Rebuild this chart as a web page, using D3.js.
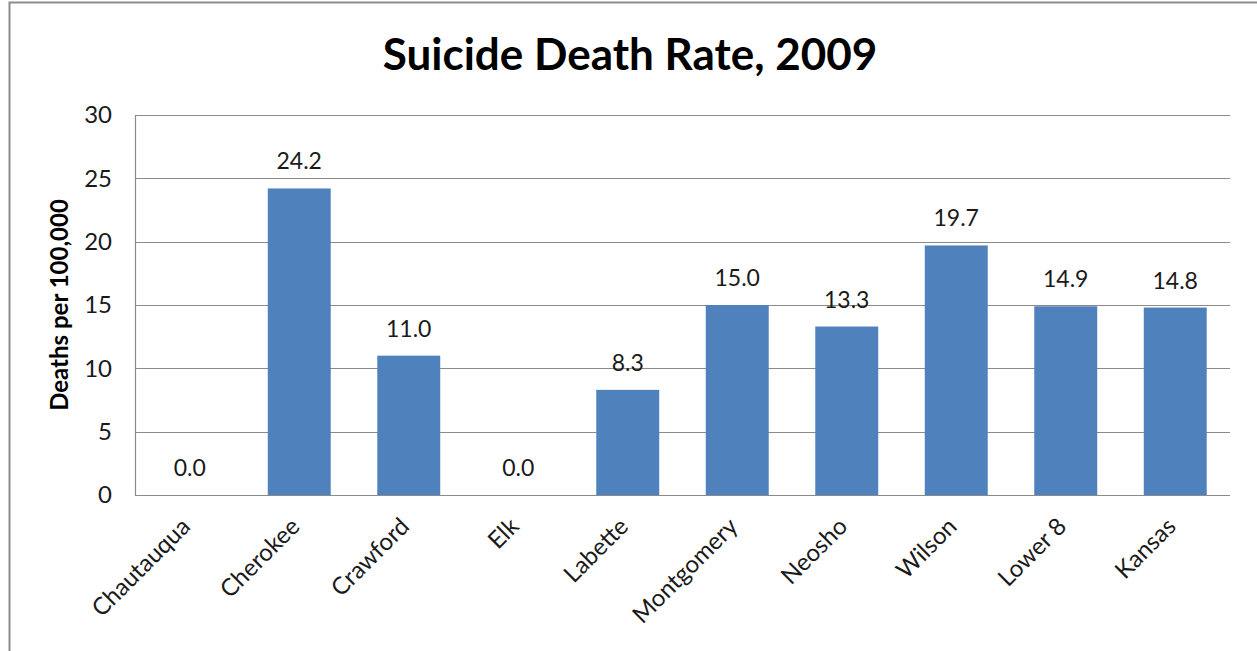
<!DOCTYPE html>
<html>
<head>
<meta charset="utf-8">
<script src="https://cdn.jsdelivr.net/npm/d3@7"></script>
<style>
  html, body { margin: 0; padding: 0; background: #fff; }
  svg { display: block; font-family: Lato, "Open Sans", sans-serif; }
</style>
</head>
<body>
<svg id="chart" width="1257" height="651"></svg>
<script>
const categories = ["Chautauqua", "Cherokee", "Crawford", "Elk", "Labette", "Montgomery", "Neosho", "Wilson", "Lower 8", "Kansas"];
const rates = [0.0, 24.2, 11.0, 0.0, 8.3, 15.0, 13.3, 19.7, 14.9, 14.8];
const yTicks = [0, 5, 10, 15, 20, 25, 30];

const svg = d3.select("#chart");
const margin = { left: 135, right: 27, top: 115, bottom: 156 };
const W = 1257, H = 651;

// chart frame
svg.append("rect")
  .attr("x", 9.5).attr("y", 2.5)
  .attr("width", W + 10).attr("height", H + 10)
  .attr("fill", "#fff").attr("stroke", "#8c8c8c").attr("stroke-width", 2);

const x = d3.scaleBand()
  .domain(categories)
  .range([margin.left, W - margin.right])
  .paddingInner(0.425).paddingOuter(0.2125);

const y = d3.scaleLinear().domain([0, 30]).range([H - margin.bottom, margin.top]);

// gridlines
svg.append("g")
  .selectAll("line")
  .data(yTicks)
  .join("line")
  .attr("x1", margin.left).attr("x2", W - margin.right)
  .attr("y1", d => Math.round(y(d)) + 0.5).attr("y2", d => Math.round(y(d)) + 0.5)
  .attr("stroke", "#8a8a8a").attr("stroke-width", 1.2);

// y axis
const yAxis = svg.append("g")
  .attr("transform", `translate(${margin.left},0)`)
  .call(d3.axisLeft(y).tickValues(yTicks).tickSize(0).tickPadding(23));
yAxis.select(".domain").attr("stroke", "#8a8a8a").attr("stroke-width", 1.2);
yAxis.selectAll("text")
  .attr("font-size", 24).attr("fill", "#1a1a1a")
  .attr("font-family", "Lato, 'Open Sans', sans-serif");

// bars
svg.append("g")
  .selectAll("rect")
  .data(categories)
  .join("rect")
  .attr("x", d => x(d))
  .attr("width", x.bandwidth())
  .attr("y", (d, i) => y(rates[i]))
  .attr("height", (d, i) => y(0) - y(rates[i]))
  .attr("fill", "#4F81BD");

// value labels
svg.append("g")
  .selectAll("text")
  .data(categories)
  .join("text")
  .attr("x", d => x(d) + x.bandwidth() / 2)
  .attr("y", (d, i) => y(rates[i]) - 19)
  .attr("text-anchor", "middle")
  .attr("font-size", 23)
  .attr("fill", "#1a1a1a")
  .text((d, i) => rates[i].toFixed(1));

// x axis labels
const xAxis = svg.append("g")
  .attr("transform", `translate(0,${y(0)})`)
  .call(d3.axisBottom(x).tickSize(0).tickPadding(0));
xAxis.select(".domain").attr("stroke", "#8a8a8a").attr("stroke-width", 1.2)
  .attr("d", `M${margin.left},0.5H${W - margin.right}`);
xAxis.selectAll("text")
  .attr("font-size", 24).attr("fill", "#1a1a1a")
  .attr("font-family", "Lato, 'Open Sans', sans-serif")
  .attr("text-anchor", "end")
  .attr("dy", "0")
  .attr("transform", "translate(2,33) rotate(-45)");

// y axis title
svg.append("text")
  .attr("transform", `translate(68,${(y(0) + y(30)) / 2}) rotate(-90)`)
  .attr("text-anchor", "middle")
  .attr("font-size", 24).attr("font-weight", "bold")
  .attr("fill", "#000")
  .text("Deaths per 100,000");

// title
svg.append("text")
  .attr("x", 630).attr("y", 70)
  .attr("text-anchor", "middle")
  .attr("font-size", 44).attr("font-weight", "bold")
  .attr("fill", "#000")
  .text("Suicide Death Rate, 2009");
</script>
</body>
</html>
